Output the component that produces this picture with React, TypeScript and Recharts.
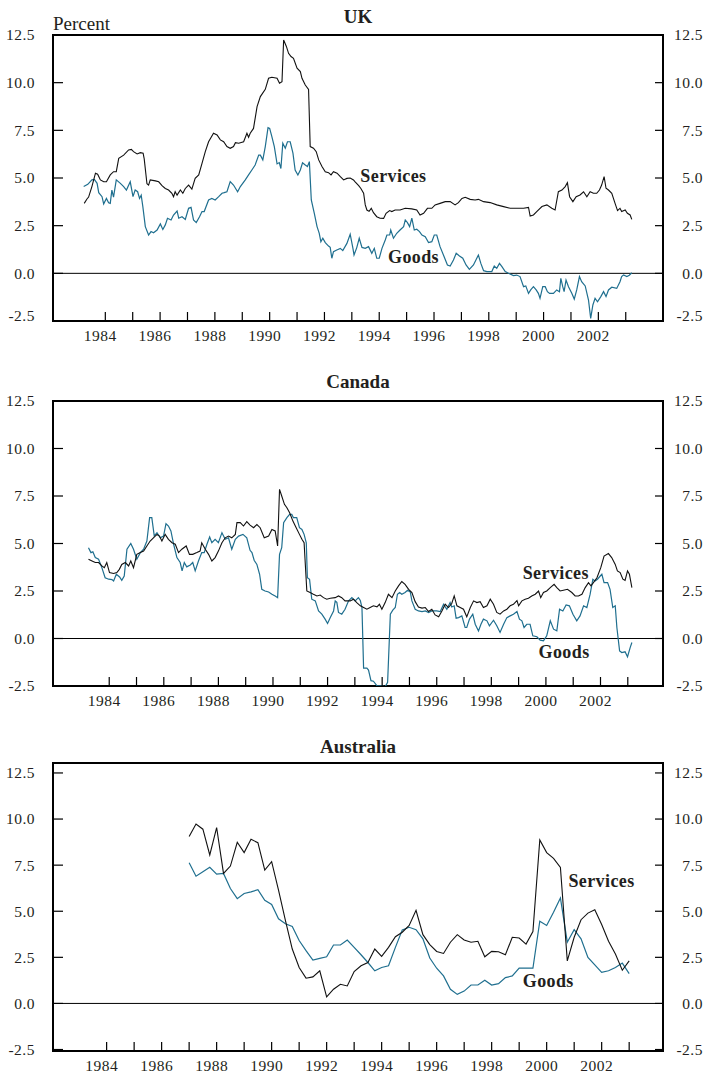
import React from 'react'
import {
  LineChart,
  Line,
  XAxis,
  YAxis,
  ReferenceLine,
  ReferenceArea,
  ReferenceDot
} from 'recharts'

type Pt = [number, number]

// year (decimal), percent change
const ukServices: Pt[] = [
  [1983.23, 3.67], [1983.33, 3.9], [1983.39, 4.0], [1983.51, 4.55], [1983.64, 5.25], [1983.72, 5.2],
  [1983.82, 4.9], [1983.94, 4.8], [1984.04, 4.8], [1984.18, 5.16], [1984.3, 5.33], [1984.4, 5.33],
  [1984.49, 6.03], [1984.67, 6.2], [1984.85, 6.47], [1984.95, 6.5], [1985.03, 6.38], [1985.16, 6.26],
  [1985.28, 6.33], [1985.38, 6.3], [1985.42, 6.0], [1985.52, 4.7], [1985.58, 4.63], [1985.64, 4.9],
  [1985.83, 4.85], [1985.95, 4.8], [1986.07, 4.6], [1986.19, 4.45], [1986.31, 4.37], [1986.43, 4.2],
  [1986.49, 4.02], [1986.55, 4.28], [1986.62, 4.1], [1986.74, 4.37], [1986.83, 4.2], [1986.92, 4.45],
  [1987.04, 4.63], [1987.16, 4.42], [1987.28, 4.98], [1987.41, 5.16], [1987.53, 5.77], [1987.65, 6.38],
  [1987.77, 6.9], [1987.95, 7.35], [1988.08, 7.26], [1988.2, 7.0], [1988.32, 6.9], [1988.44, 6.65],
  [1988.56, 6.56], [1988.68, 6.65], [1988.75, 6.85], [1988.87, 6.82], [1989.05, 6.9], [1989.17, 7.35],
  [1989.23, 7.14], [1989.29, 7.35], [1989.41, 7.6], [1989.54, 8.74], [1989.66, 9.27], [1989.84, 9.65],
  [1989.96, 10.23], [1990.08, 10.28], [1990.27, 10.23], [1990.36, 9.97], [1990.45, 10.05], [1990.51, 12.24],
  [1990.61, 11.9], [1990.69, 11.54], [1990.78, 11.37], [1990.87, 11.28], [1991.0, 10.76], [1991.12, 10.58],
  [1991.18, 10.23], [1991.3, 9.88], [1991.42, 9.65], [1991.48, 6.65], [1991.6, 6.56], [1991.7, 6.38],
  [1991.79, 5.95], [1991.91, 5.6], [1992.03, 5.33], [1992.15, 5.28], [1992.24, 5.16], [1992.33, 5.33],
  [1992.46, 5.25], [1992.58, 5.07], [1992.7, 4.9], [1992.82, 4.98], [1992.94, 5.0], [1993.06, 4.9],
  [1993.12, 4.8], [1993.25, 4.6], [1993.33, 4.45], [1993.43, 4.2], [1993.49, 3.59], [1993.55, 3.32],
  [1993.63, 3.25], [1993.71, 3.41], [1993.79, 3.18], [1993.91, 2.97], [1994.03, 2.89], [1994.16, 2.88],
  [1994.25, 3.15], [1994.38, 3.29], [1994.46, 3.24], [1994.58, 3.32], [1994.76, 3.32], [1994.95, 3.41],
  [1995.19, 3.38], [1995.37, 3.32], [1995.49, 3.06], [1995.62, 3.15], [1995.76, 3.41], [1995.92, 3.41],
  [1996.04, 3.59], [1996.22, 3.67], [1996.41, 3.76], [1996.59, 3.76], [1996.77, 3.59], [1996.89, 3.71],
  [1997.02, 3.93], [1997.14, 3.99], [1997.32, 3.88], [1997.5, 3.85], [1997.62, 3.88], [1997.81, 3.76],
  [1998.05, 3.71], [1998.29, 3.59], [1998.54, 3.5], [1998.78, 3.41], [1999.02, 3.41], [1999.27, 3.41],
  [1999.45, 3.46], [1999.51, 3.0], [1999.63, 3.06], [1999.75, 3.24], [1999.94, 3.5], [2000.12, 3.59],
  [2000.3, 3.41], [2000.42, 3.32], [2000.54, 4.28], [2000.67, 4.37], [2000.79, 4.55], [2000.87, 4.76],
  [2000.95, 4.02], [2001.07, 3.76], [2001.19, 4.02], [2001.33, 4.11], [2001.46, 4.28], [2001.58, 4.02],
  [2001.7, 4.28], [2001.82, 4.2], [2001.94, 4.2], [2002.04, 4.37], [2002.12, 4.63], [2002.21, 5.07],
  [2002.28, 4.46], [2002.37, 4.37], [2002.49, 4.2], [2002.61, 3.67], [2002.7, 3.29], [2002.79, 3.41],
  [2002.85, 3.24], [2002.98, 3.32], [2003.06, 3.15], [2003.16, 3.06], [2003.22, 2.83]
]

const ukGoods: Pt[] = [
  [1983.21, 4.55], [1983.36, 4.67], [1983.51, 4.9], [1983.6, 4.93], [1983.7, 4.72], [1983.76, 4.23],
  [1983.88, 4.02], [1983.94, 3.64], [1984.04, 3.93], [1984.12, 3.7], [1984.18, 3.67], [1984.24, 4.37],
  [1984.3, 4.0], [1984.4, 4.9], [1984.55, 4.72], [1984.67, 4.55], [1984.77, 4.37], [1984.91, 4.8],
  [1985.01, 4.02], [1985.09, 4.37], [1985.18, 4.28], [1985.25, 3.93], [1985.31, 4.1], [1985.37, 3.5],
  [1985.46, 2.45], [1985.58, 2.01], [1985.67, 2.19], [1985.76, 2.13], [1985.89, 2.27], [1986.01, 2.59],
  [1986.1, 2.3], [1986.19, 2.54], [1986.27, 2.89], [1986.4, 2.8], [1986.49, 3.06], [1986.62, 3.27],
  [1986.68, 2.89], [1986.8, 2.97], [1986.92, 2.83], [1987.04, 3.41], [1987.13, 3.46], [1987.22, 2.8],
  [1987.32, 2.66], [1987.44, 2.97], [1987.53, 3.24], [1987.61, 3.24], [1987.77, 3.85], [1987.89, 3.93],
  [1988.01, 3.85], [1988.14, 4.02], [1988.26, 4.2], [1988.34, 4.23], [1988.44, 4.28], [1988.56, 4.81],
  [1988.68, 4.63], [1988.83, 4.28], [1988.93, 4.55], [1989.11, 4.9], [1989.23, 5.16], [1989.35, 5.42],
  [1989.47, 5.68], [1989.6, 6.2], [1989.66, 6.2], [1989.75, 5.95], [1989.84, 6.65], [1989.94, 7.64],
  [1990.0, 7.6], [1990.08, 7.17], [1990.17, 6.65], [1990.27, 5.74], [1990.35, 5.81], [1990.41, 5.5],
  [1990.48, 6.82], [1990.57, 6.56], [1990.65, 6.9], [1990.75, 6.9], [1990.85, 6.3], [1990.93, 5.42],
  [1991.03, 5.16], [1991.12, 5.42], [1991.2, 5.8], [1991.3, 5.68], [1991.38, 5.6], [1991.45, 5.86],
  [1991.52, 3.85], [1991.63, 3.15], [1991.73, 2.45], [1991.81, 2.1], [1991.87, 1.66], [1991.94, 1.84],
  [1992.03, 1.61], [1992.15, 1.43], [1992.21, 1.36], [1992.27, 0.79], [1992.33, 1.14], [1992.45, 1.22],
  [1992.58, 1.31], [1992.67, 1.19], [1992.82, 1.57], [1992.94, 2.05], [1993.04, 1.31], [1993.08, 0.96],
  [1993.18, 1.35], [1993.27, 1.84], [1993.37, 1.36], [1993.49, 1.31], [1993.61, 1.4], [1993.73, 1.05],
  [1993.82, 1.31], [1993.91, 0.79], [1994.0, 0.79], [1994.1, 1.31], [1994.22, 1.75], [1994.28, 2.01],
  [1994.38, 2.01], [1994.42, 2.27], [1994.52, 1.84], [1994.64, 2.1], [1994.76, 2.27], [1994.89, 2.45],
  [1994.95, 2.8], [1995.03, 2.66], [1995.11, 2.45], [1995.19, 2.89], [1995.28, 2.27], [1995.37, 2.31],
  [1995.47, 2.19], [1995.56, 2.01], [1995.68, 1.92], [1995.8, 1.61], [1995.92, 1.66], [1996.01, 2.01],
  [1996.1, 2.01], [1996.22, 1.4], [1996.37, 0.87], [1996.49, 0.44], [1996.59, 0.38], [1996.71, 0.7],
  [1996.81, 1.05], [1996.93, 0.91], [1997.05, 0.79], [1997.17, 0.44], [1997.29, 0.21], [1997.44, 0.44],
  [1997.62, 0.96], [1997.71, 0.52], [1997.81, 0.14], [1997.93, 0.09], [1998.11, 0.09], [1998.2, 0.38],
  [1998.29, 0.26], [1998.39, 0.52], [1998.48, 0.35], [1998.6, 0.09], [1998.72, 0.0], [1998.9, -0.12],
  [1999.02, -0.09], [1999.14, -0.17], [1999.27, -0.7], [1999.35, -0.66], [1999.45, -1.05], [1999.53, -0.87],
  [1999.63, -0.7], [1999.73, -0.87], [1999.81, -1.05], [1999.87, -1.31], [1999.97, -0.7], [2000.06, -0.7],
  [2000.14, -0.96], [2000.22, -1.05], [2000.36, -1.05], [2000.48, -0.87], [2000.58, -0.96], [2000.63, -0.26],
  [2000.7, -0.7], [2000.75, -0.96], [2000.82, -0.35], [2000.91, -0.7], [2001.03, -1.05], [2001.12, -1.35],
  [2001.21, -0.87], [2001.31, -0.17], [2001.39, -0.44], [2001.52, -0.66], [2001.64, -1.4], [2001.72, -2.36],
  [2001.8, -1.66], [2001.88, -1.31], [2001.97, -1.49], [2002.09, -1.22], [2002.19, -0.96], [2002.28, -1.22],
  [2002.37, -0.87], [2002.49, -0.73], [2002.67, -0.79], [2002.79, -0.44], [2002.85, -0.17], [2002.92, -0.09],
  [2003.04, -0.17], [2003.13, -0.1], [2003.22, 0.03]
]

const caServices: Pt[] = [
  [1983.24, 4.17], [1983.37, 4.08], [1983.49, 4.0], [1983.61, 4.0], [1983.73, 3.82], [1983.82, 3.73],
  [1983.91, 4.0], [1984.01, 3.47], [1984.16, 3.42], [1984.28, 3.47], [1984.37, 3.64], [1984.46, 3.9],
  [1984.59, 4.0], [1984.71, 3.82], [1984.79, 4.08], [1984.89, 3.73], [1985.01, 4.43], [1985.14, 4.52],
  [1985.26, 4.6], [1985.38, 4.87], [1985.5, 5.13], [1985.62, 5.3], [1985.75, 5.48], [1985.84, 5.39],
  [1985.93, 5.13], [1986.05, 5.48], [1986.17, 5.22], [1986.3, 5.04], [1986.42, 4.96], [1986.54, 4.52],
  [1986.66, 4.7], [1986.82, 4.87], [1986.94, 4.43], [1987.06, 4.43], [1987.21, 4.52], [1987.33, 4.6],
  [1987.39, 5.04], [1987.52, 4.7], [1987.64, 4.43], [1987.76, 4.08], [1987.88, 4.26], [1988.0, 4.6],
  [1988.13, 5.04], [1988.25, 5.3], [1988.37, 5.39], [1988.49, 5.3], [1988.62, 5.48], [1988.68, 6.1],
  [1988.8, 6.1], [1988.92, 5.92], [1989.04, 6.15], [1989.16, 5.97], [1989.29, 5.83], [1989.41, 6.0],
  [1989.53, 5.83], [1989.68, 5.3], [1989.84, 5.39], [1989.96, 5.74], [1990.08, 5.66], [1990.17, 4.87],
  [1990.24, 7.85], [1990.32, 7.5], [1990.42, 7.06], [1990.51, 6.88], [1990.61, 6.62], [1990.73, 6.18],
  [1990.85, 5.83], [1990.97, 5.48], [1991.06, 5.22], [1991.14, 5.04], [1991.24, 2.5], [1991.36, 2.42],
  [1991.48, 2.33], [1991.61, 2.24], [1991.73, 2.29], [1991.85, 2.15], [1991.97, 2.07], [1992.1, 2.12],
  [1992.28, 2.15], [1992.4, 2.24], [1992.52, 2.15], [1992.64, 1.98], [1992.83, 1.98], [1992.95, 2.07],
  [1993.07, 1.89], [1993.2, 1.72], [1993.32, 1.63], [1993.44, 1.54], [1993.56, 1.63], [1993.68, 1.72],
  [1993.81, 1.67], [1993.9, 1.8], [1993.99, 1.54], [1994.11, 1.89], [1994.23, 2.33], [1994.36, 2.15],
  [1994.48, 2.5], [1994.6, 2.77], [1994.72, 3.0], [1994.84, 2.85], [1994.97, 2.59], [1995.09, 2.42],
  [1995.21, 1.94], [1995.33, 1.66], [1995.46, 1.6], [1995.58, 1.63], [1995.7, 1.42], [1995.82, 1.54],
  [1995.94, 1.24], [1996.07, 1.14], [1996.19, 1.45], [1996.31, 1.8], [1996.43, 1.63], [1996.55, 1.84],
  [1996.64, 2.24], [1996.74, 1.72], [1996.86, 1.63], [1996.98, 1.54], [1997.1, 1.14], [1997.23, 1.63],
  [1997.35, 1.98], [1997.47, 1.89], [1997.59, 1.94], [1997.71, 1.63], [1997.84, 1.72], [1997.96, 2.07],
  [1998.08, 1.8], [1998.2, 1.37], [1998.32, 1.28], [1998.45, 1.45], [1998.57, 1.54], [1998.69, 1.72],
  [1998.81, 1.8], [1998.94, 2.0], [1999.0, 1.72], [1999.12, 1.98], [1999.24, 2.07], [1999.36, 2.12],
  [1999.48, 2.24], [1999.61, 2.33], [1999.73, 2.5], [1999.81, 2.15], [1999.91, 2.42], [2000.03, 2.5],
  [2000.16, 2.68], [2000.3, 2.85], [2000.4, 2.68], [2000.52, 2.5], [2000.64, 2.54], [2000.79, 2.59],
  [2000.95, 2.42], [2001.07, 2.24], [2001.19, 2.24], [2001.32, 2.33], [2001.44, 2.68], [2001.56, 2.94],
  [2001.65, 2.77], [2001.74, 2.94], [2001.87, 3.2], [2002.01, 3.73], [2002.13, 4.34], [2002.29, 4.47],
  [2002.41, 4.26], [2002.54, 3.9], [2002.62, 3.56], [2002.72, 3.47], [2002.82, 3.12], [2002.9, 3.06],
  [2002.99, 3.56], [2003.06, 3.38], [2003.15, 2.68]
]

const caGoods: Pt[] = [
  [1983.24, 4.78], [1983.33, 4.52], [1983.4, 4.56], [1983.49, 4.26], [1983.61, 4.17], [1983.73, 3.73],
  [1983.85, 3.2], [1983.98, 3.12], [1984.1, 3.1], [1984.16, 3.03], [1984.26, 3.38], [1984.38, 3.24],
  [1984.46, 3.06], [1984.55, 3.29], [1984.65, 4.7], [1984.79, 5.0], [1984.89, 4.7], [1985.01, 4.17],
  [1985.14, 4.52], [1985.26, 4.7], [1985.38, 5.13], [1985.48, 6.36], [1985.56, 6.36], [1985.65, 5.4],
  [1985.75, 5.57], [1985.87, 5.3], [1985.99, 5.39], [1986.08, 6.04], [1986.17, 5.92], [1986.26, 5.66],
  [1986.36, 4.96], [1986.48, 4.26], [1986.6, 4.0], [1986.67, 3.56], [1986.75, 4.0], [1986.84, 3.77],
  [1986.97, 3.87], [1987.06, 4.0], [1987.15, 3.56], [1987.27, 4.08], [1987.39, 4.52], [1987.48, 4.52],
  [1987.58, 4.96], [1987.68, 5.34], [1987.76, 5.04], [1987.88, 5.22], [1988.0, 5.04], [1988.13, 5.57],
  [1988.25, 5.22], [1988.37, 5.3], [1988.49, 4.7], [1988.62, 5.22], [1988.74, 5.39], [1988.9, 5.48],
  [1989.04, 5.3], [1989.16, 4.64], [1989.23, 4.52], [1989.31, 4.12], [1989.41, 3.9], [1989.51, 3.38],
  [1989.59, 2.59], [1989.71, 2.5], [1989.84, 2.45], [1989.96, 2.33], [1990.08, 2.24], [1990.17, 2.15],
  [1990.24, 4.43], [1990.32, 4.78], [1990.39, 6.1], [1990.51, 6.36], [1990.61, 6.53], [1990.69, 6.53],
  [1990.75, 6.36], [1990.87, 6.36], [1990.97, 5.83], [1991.06, 5.74], [1991.14, 5.48], [1991.22, 5.04],
  [1991.26, 3.2], [1991.34, 3.12], [1991.42, 2.07], [1991.55, 1.98], [1991.67, 1.45], [1991.79, 1.28],
  [1991.91, 1.02], [1992.0, 0.79], [1992.1, 1.1], [1992.22, 1.45], [1992.28, 1.98], [1992.34, 1.9],
  [1992.4, 1.37], [1992.52, 1.28], [1992.64, 1.54], [1992.77, 1.98], [1992.89, 2.15], [1993.01, 1.98],
  [1993.13, 2.15], [1993.2, 2.0], [1993.26, 1.63], [1993.32, -1.56], [1993.44, -1.56], [1993.5, -1.66],
  [1993.59, -2.22], [1993.68, -2.25], [1993.81, -2.49], [1993.99, -2.49], [1994.11, -2.54], [1994.2, -2.31],
  [1994.3, 1.28], [1994.39, 1.49], [1994.48, 1.63], [1994.56, 2.33], [1994.64, 2.42], [1994.72, 2.33],
  [1994.84, 2.42], [1994.93, 2.54], [1995.03, 2.45], [1995.09, 1.98], [1995.21, 1.54], [1995.33, 1.45],
  [1995.46, 1.42], [1995.58, 1.45], [1995.7, 1.37], [1995.82, 1.45], [1996.0, 1.45], [1996.13, 1.42],
  [1996.25, 1.8], [1996.37, 1.54], [1996.49, 1.89], [1996.55, 1.66], [1996.64, 1.72], [1996.71, 1.07],
  [1996.8, 1.1], [1996.92, 1.19], [1997.04, 0.58], [1997.1, 0.58], [1997.2, 1.02], [1997.32, 1.28],
  [1997.41, 0.75], [1997.53, 0.4], [1997.62, 0.75], [1997.71, 1.02], [1997.84, 0.93], [1997.93, 0.67],
  [1998.08, 0.96], [1998.2, 0.67], [1998.32, 0.32], [1998.45, 0.75], [1998.57, 1.1], [1998.69, 1.19],
  [1998.81, 1.28], [1998.94, 1.42], [1999.03, 1.02], [1999.12, 0.93], [1999.2, 0.58], [1999.3, 0.75],
  [1999.42, 0.75], [1999.52, 0.14], [1999.67, 0.09], [1999.79, -0.09], [1999.91, -0.12], [2000.03, 0.14],
  [2000.16, 0.93], [2000.28, 0.49], [2000.4, 0.4], [2000.5, 1.54], [2000.62, 1.45], [2000.74, 1.77],
  [2000.86, 1.72], [2000.99, 1.28], [2001.13, 0.93], [2001.25, 1.19], [2001.38, 1.72], [2001.5, 1.63],
  [2001.62, 2.33], [2001.72, 3.12], [2001.8, 3.03], [2001.89, 3.12], [2001.99, 3.29], [2002.05, 3.38],
  [2002.13, 2.94], [2002.26, 2.94], [2002.35, 2.59], [2002.45, 1.63], [2002.54, 1.72], [2002.6, 0.58],
  [2002.7, -0.65], [2002.78, -0.74], [2002.9, -0.7], [2002.99, -0.96], [2003.09, -0.47], [2003.15, -0.21]
]

// Australia is quarterly, 1987 Q1 to 2003 Q1
const auServices: Pt[] = [
  [1987.0, 9.05], [1987.25, 9.73], [1987.5, 9.45], [1987.75, 8.05], [1988.0, 9.54], [1988.25, 7.05],
  [1988.5, 7.45], [1988.75, 8.74], [1989.0, 8.18], [1989.25, 8.9], [1989.5, 8.72], [1989.75, 7.23],
  [1990.0, 7.69], [1990.25, 6.14], [1990.5, 4.5], [1990.75, 2.95], [1991.0, 1.95], [1991.25, 1.37],
  [1991.5, 1.44], [1991.75, 1.77], [1992.0, 0.36], [1992.25, 0.77], [1992.5, 1.04], [1992.75, 0.95],
  [1993.0, 1.73], [1993.25, 2.04], [1993.5, 2.22], [1993.75, 2.95], [1994.0, 2.55], [1994.25, 3.04],
  [1994.5, 3.62], [1994.75, 3.86], [1995.0, 4.23], [1995.25, 5.05], [1995.5, 3.73], [1995.75, 3.19],
  [1996.0, 2.82], [1996.25, 2.71], [1996.5, 3.32], [1996.75, 3.73], [1997.0, 3.44], [1997.25, 3.32],
  [1997.5, 3.37], [1997.75, 2.53], [1998.0, 2.82], [1998.25, 2.8], [1998.5, 2.64], [1998.75, 3.59],
  [1999.0, 3.55], [1999.25, 3.22], [1999.5, 3.9], [1999.75, 8.87], [2000.0, 8.18], [2000.25, 7.87],
  [2000.5, 7.38], [2000.75, 2.31], [2001.0, 3.59], [2001.25, 4.54], [2001.5, 4.9], [2001.75, 5.08],
  [2002.0, 4.28], [2002.25, 3.37], [2002.5, 2.68], [2002.75, 1.8], [2003.0, 2.31]
]

const auGoods: Pt[] = [
  [1987.0, 7.63], [1987.25, 6.9], [1987.5, 7.14], [1987.75, 7.38], [1988.0, 7.01], [1988.25, 7.05],
  [1988.5, 6.23], [1988.75, 5.68], [1989.0, 5.96], [1989.25, 6.05], [1989.5, 6.17], [1989.75, 5.59],
  [1990.0, 5.37], [1990.25, 4.59], [1990.5, 4.32], [1990.75, 4.17], [1991.0, 3.41], [1991.25, 2.86],
  [1991.5, 2.35], [1991.75, 2.44], [1992.0, 2.53], [1992.25, 3.17], [1992.5, 3.17], [1992.75, 3.44],
  [1993.0, 3.04], [1993.25, 2.64], [1993.5, 2.22], [1993.75, 1.77], [1994.0, 1.95], [1994.25, 2.04],
  [1994.5, 3.04], [1994.75, 3.99], [1995.0, 4.13], [1995.25, 4.0], [1995.5, 3.5], [1995.75, 2.46],
  [1996.0, 1.91], [1996.25, 1.49], [1996.5, 0.77], [1996.75, 0.49], [1997.0, 0.67], [1997.25, 1.0],
  [1997.5, 1.0], [1997.75, 1.26], [1998.0, 1.0], [1998.25, 1.07], [1998.5, 1.4], [1998.75, 1.49],
  [1999.0, 1.91], [1999.25, 1.91], [1999.5, 1.91], [1999.75, 4.46], [2000.0, 4.23], [2000.25, 4.95],
  [2000.5, 5.72], [2000.75, 3.32], [2001.0, 4.0], [2001.25, 3.5], [2001.5, 2.5], [2001.75, 2.09],
  [2002.0, 1.68], [2002.25, 1.77], [2002.5, 1.95], [2002.75, 2.19], [2003.0, 1.62]
]

const yearTicks = [
  1984, 1985, 1986, 1987, 1988, 1989, 1990, 1991, 1992, 1993,
  1994, 1995, 1996, 1997, 1998, 1999, 2000, 2001, 2002, 2003
]
const valueTicks = [-2.5, 0, 2.5, 5, 7.5, 10, 12.5]

const serif = "'Liberation Serif', 'Times New Roman', serif"
const ink = '#231f20'
const goodsColor = '#1f6f8f'

const tickFont = { fontFamily: serif, fontSize: 15.5, fill: ink, letterSpacing: 0.5 }
const tagFont = { fontFamily: serif, fontSize: 18, fontWeight: 700, fill: ink, letterSpacing: 0.4 }

const toRows = (pts: Pt[]) => pts.map(([x, y]) => ({ x, y }))

type PanelProps = {
  title: string
  top: number
  height: number
  titleTop: number
  services: Pt[]
  goods: Pt[]
  xDomain: [number, number]
  yDomain: [number, number]
  servicesAt: Pt
  goodsAt: Pt
  liftBottom?: boolean
}

const Panel = (p: PanelProps) => {
  const yearTick = (t: any) =>
    t.payload.value % 2 === 0 ? (
      <text x={t.x - 5} y={t.y + 20} textAnchor="middle" {...tickFont}>
        {t.payload.value}
      </text>
    ) : (
      <g />
    )

  const valueTick = (side: 'left' | 'right') => (t: any) => {
    const v = t.payload.value
    const lift = p.liftBottom && v === -2.5 ? -5 : 0
    return (
      <text
        x={side === 'left' ? t.x - 18 : t.x + 40}
        y={t.y + lift}
        dy="0.35em"
        textAnchor="end"
        {...tickFont}
      >
        {v.toFixed(1)}
      </text>
    )
  }

  const tag = (label: string) => (s: any) => (
    <text x={s.cx} y={s.cy} {...tagFont}>
      {label}
    </text>
  )

  return (
    <>
      <div
        style={{
          position: 'absolute',
          left: 0,
          width: 716,
          top: p.titleTop,
          textAlign: 'center',
          fontFamily: serif,
          fontWeight: 700,
          fontSize: 19,
          lineHeight: '19px',
          color: ink
        }}
      >
        {p.title}
      </div>
      <div style={{ position: 'absolute', left: 0, top: p.top }}>
        <LineChart
          width={709}
          height={p.height}
          margin={{ top: 35, right: 0, bottom: 0, left: 0 }}
        >
          <XAxis
            type="number"
            dataKey="x"
            domain={p.xDomain}
            ticks={yearTicks}
            interval={0}
            allowDataOverflow
            height={30}
            axisLine={false}
            tickSize={-9}
            tickMargin={9}
            tickLine={{ stroke: '#000', strokeWidth: 1.2 }}
            tick={yearTick}
          />
          <YAxis
            yAxisId="l"
            orientation="left"
            type="number"
            width={53}
            domain={p.yDomain}
            ticks={valueTicks}
            interval={0}
            allowDataOverflow
            axisLine={false}
            tickSize={-10}
            tickMargin={10}
            tickLine={{ stroke: '#000', strokeWidth: 1.2 }}
            tick={valueTick('left')}
          />
          <YAxis
            yAxisId="r"
            orientation="right"
            type="number"
            width={46}
            domain={p.yDomain}
            ticks={valueTicks}
            interval={0}
            allowDataOverflow
            axisLine={false}
            tickSize={-8}
            tickMargin={8}
            tickLine={{ stroke: '#000', strokeWidth: 1.2 }}
            tick={valueTick('right')}
          />
          <ReferenceLine yAxisId="l" y={0} stroke="#000" strokeWidth={1} />
          <Line
            yAxisId="l"
            data={toRows(p.goods)}
            dataKey="y"
            type="linear"
            stroke={goodsColor}
            strokeWidth={1.2}
            dot={false}
            isAnimationActive={false}
          />
          <Line
            yAxisId="l"
            data={toRows(p.services)}
            dataKey="y"
            type="linear"
            stroke="#111"
            strokeWidth={1.1}
            dot={false}
            isAnimationActive={false}
          />
          <ReferenceDot
            yAxisId="l"
            x={p.servicesAt[0]}
            y={p.servicesAt[1]}
            r={0}
            shape={tag('Services')}
          />
          <ReferenceDot
            yAxisId="l"
            x={p.goodsAt[0]}
            y={p.goodsAt[1]}
            r={0}
            shape={tag('Goods')}
          />
          <ReferenceArea
            yAxisId="l"
            x1={p.xDomain[0]}
            x2={p.xDomain[1]}
            y1={p.yDomain[0]}
            y2={p.yDomain[1]}
            fill="none"
            fillOpacity={0}
            stroke="#000"
            strokeWidth={2}
            ifOverflow="visible"
          />
        </LineChart>
      </div>
    </>
  )
}

export default function App() {
  return (
    <div
      style={{
        position: 'absolute',
        left: 0,
        top: 0,
        width: 709,
        height: 1079,
        background: '#fff',
        overflow: 'hidden'
      }}
    >
      <div
        style={{
          position: 'absolute',
          left: 53,
          top: 14,
          fontFamily: serif,
          fontSize: 19,
          lineHeight: '19px',
          color: ink
        }}
      >
        Percent
      </div>
      <Panel
        title="UK"
        top={0}
        height={351}
        titleTop={7}
        services={ukServices}
        goods={ukGoods}
        xDomain={[1982.09, 2004.36]}
        yDomain={[-2.5, 12.5]}
        servicesAt={[1993.31, 4.81]}
        goodsAt={[1994.32, 0.56]}
        liftBottom
      />
      <Panel
        title="Canada"
        top={366}
        height={350}
        titleTop={372}
        services={caServices}
        goods={caGoods}
        xDomain={[1981.94, 2004.29]}
        yDomain={[-2.5, 12.5]}
        servicesAt={[1999.15, 3.12]}
        goodsAt={[1999.73, -1.05]}
      />
      <Panel
        title="Australia"
        top={728}
        height={353}
        titleTop={737}
        services={auServices}
        goods={auGoods}
        xDomain={[1982.05, 2004.23]}
        yDomain={[-2.58, 13.04]}
        servicesAt={[2000.79, 6.32]}
        goodsAt={[1999.13, 0.89]}
      />
    </div>
  )
}
